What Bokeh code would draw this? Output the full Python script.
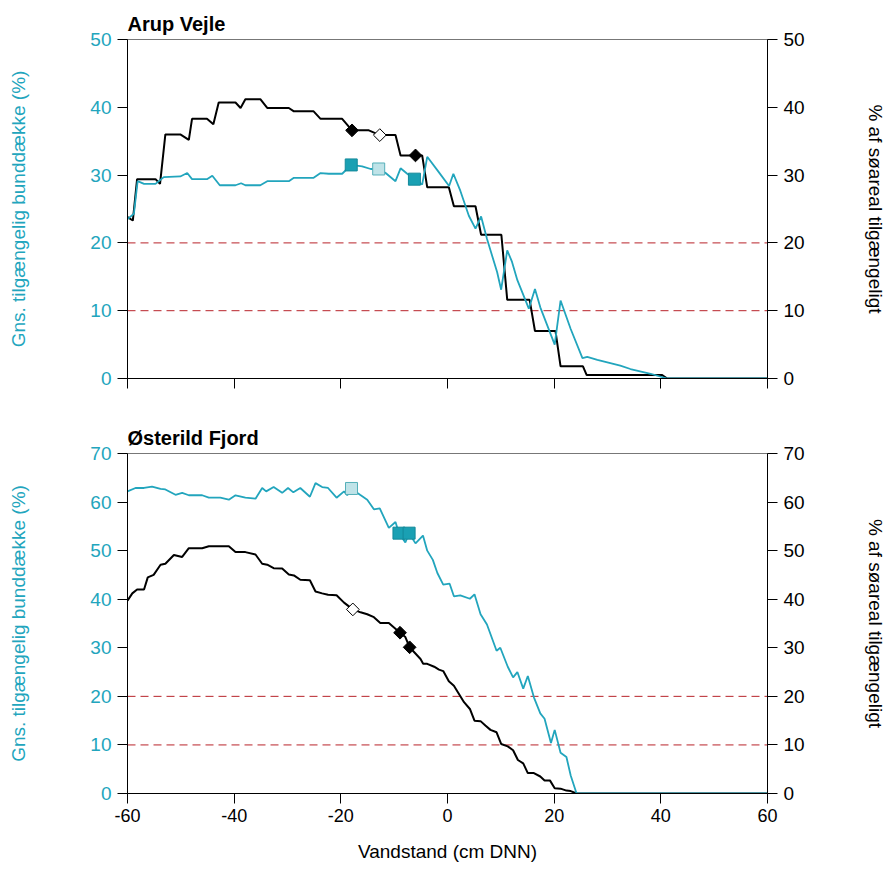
import numpy as np
from bokeh.plotting import figure
from bokeh.models import Range1d, LinearAxis, SingleIntervalTicker, FixedTicker, Span
from bokeh.layouts import column
from bokeh.embed import file_html
from bokeh.resources import INLINE

# ---------------- data ----------------
x_ticks = [-60, -40, -20, 0, 20, 40, 60]
x_tick_labels = ["-60", "-40", "-20", "0", "20", "40", "60"]
ref_levels = [10, 20]

# Arup Vejle
arup_black_x = [-60, -59, -58.2, -54.75, -53.9, -52.9, -50.1, -48.5, -47.9, -45.1,
                -43.9, -42.9, -39.75, -38.8, -37.9, -35.1, -33.8, -29.75, -28.8, -25.1,
                -23.8, -19.75, -17.9, -14.75, -12.7, -9.75, -8.8, -6.0, -4.75, -3.8,
                0.25, 1.2, 5.25, 6.3, 10.1, 11.2, 15.4, 16.4, 20.25, 21.2,
                25.4, 26.1, 40.25, 41.2, 60]
arup_black_y = [23.8, 23.3, 29.4, 29.4, 28.7, 36.0, 36.0, 35.2, 38.3, 38.3,
                37.5, 40.7, 40.7, 39.9, 41.2, 41.2, 39.9, 39.9, 39.4, 39.4,
                38.3, 38.3, 36.6, 36.6, 35.9, 35.9, 32.9, 32.9, 32.9, 28.2,
                28.2, 25.4, 25.4, 21.2, 21.2, 11.6, 11.6, 7.0, 7.0, 1.8,
                1.8, 0.5, 0.5, 0, 0]
arup_teal_x = [-60, -58.8, -58.1, -56.9, -54.75, -53.2, -50.1, -48.8, -47.9, -45.1,
               -44.1, -42.7, -39.75, -38.7, -37.9, -35.1, -33.8, -29.75, -28.8, -25.1,
               -23.8, -22.25, -19.75, -18.05, -16.0, -14.4, -12.9, -11.6, -9.75, -8.8,
               -7.55, -6.2, -4.75, -3.8, -1.6, 0.3, 1.1, 2.4, 4.0, 5.25,
               6.3, 7.4, 9.3, 10.06, 11.2, 12.1, 13.1, 15.25, 16.4, 17.4,
               20.1, 21.2, 23.1, 25.3, 26.2, 28.1, 32.4, 34.3, 38.1, 41.2, 60]
arup_teal_y = [23.5, 24.3, 29.1, 28.7, 28.7, 29.7, 29.8, 30.3, 29.4, 29.4,
               29.9, 28.5, 28.5, 28.8, 28.5, 28.5, 29.1, 29.1, 29.6, 29.6,
               30.3, 30.2, 30.2, 31.5, 31.3, 30.9, 30.9, 30.3, 29.1, 31.0,
               30.2, 29.4, 28.6, 32.7, 30.4, 28.4, 30.2, 27.7, 24.0, 22.1,
               23.9, 20.6, 15.7, 13.1, 18.9, 17.2, 14.5, 10.3, 13.2, 10.5,
               5.0, 11.5, 7.3, 3.0, 3.2, 2.75, 1.9, 1.4, 0.7, 0, 0]
arup_dia_fill_x = [-17.9, -6.0]
arup_dia_fill_y = [36.6, 32.9]
arup_dia_open_x = [-12.7]
arup_dia_open_y = [35.9]
arup_sq_fill_x = [-18.05, -6.2]
arup_sq_fill_y = [31.5, 29.4]
arup_sq_light_x = [-12.9]
arup_sq_light_y = [30.9]

# Østerild Fjord
ost_teal_x = [-60, -58.5, -56.9, -55.4, -53.8, -52.9, -51.0, -49.75, -48.5, -46.0,
              -44.75, -42.6, -41.0, -39.75, -37.9, -36.0, -34.75, -34.0, -32.6, -31.0,
              -29.9, -28.9, -27.6, -25.8, -24.75, -23.5, -22.4, -20.8, -19.4, -18.8,
              -18.0, -16.4, -15.05, -13.8, -12.7, -11.0, -9.75, -9.1, -7.9, -7.2,
              -6.0, -4.6, -3.8, -2.75, -1.9, -0.8, 0.4, 1.2, 2.4, 4.2,
              5.06, 6.2, 7.4, 9.2, 9.9, 11.3, 12.3, 13.1, 14.2, 15.06,
              16.2, 17.4, 18.2, 19.4, 20.1, 21.2, 22.3, 23.1, 24.2, 60]
ost_teal_y = [62.2, 62.9, 62.9, 63.2, 62.7, 62.6, 61.5, 61.9, 61.4, 61.4,
              60.9, 60.9, 60.5, 61.4, 60.9, 60.7, 62.9, 62.2, 63.1, 61.9,
              62.9, 62.0, 62.9, 61.1, 63.9, 63.1, 62.9, 60.9, 62.2, 61.4,
              62.7, 61.5, 60.5, 58.5, 58.7, 54.7, 55.9, 53.6, 51.7, 53.6,
              51.5, 53.1, 50.0, 48.1, 45.4, 43.0, 43.2, 40.6, 40.8, 40.1,
              41.0, 36.9, 34.8, 29.4, 30.0, 26.1, 23.9, 25.0, 21.6, 24.2,
              19.8, 16.5, 15.4, 10.4, 13.1, 8.4, 7.5, 3.7, 0, 0]
ost_black_x = [-60, -59.1, -58.2, -56.9, -56.2, -55.1, -53.8, -52.9, -51.3, -49.75,
               -48.5, -46.0, -44.75, -41.0, -39.75, -37.9, -36.0, -34.75, -33.8, -32.6,
               -31.0, -29.75, -28.8, -27.6, -25.8, -24.75, -23.5, -22.4, -20.8, -19.4,
               -17.75, -16.3, -15.05, -13.8, -12.6, -11.0, -8.9, -7.9, -7.1, -5.06,
               -4.56, -3.8, -2.5, -1.6, -0.8, 0.25, 1.2, 3.1, 4.2, 5.06,
               6.2, 7.1, 8.06, 9.2, 10.06, 11.3, 12.3, 13.2, 14.2, 15.06,
               16.2, 17.4, 18.2, 19.2, 20.1, 21.2, 22.3, 23.1, 24.2, 60]
ost_black_y = [39.7, 41.2, 42.0, 42.0, 44.5, 45.0, 47.1, 47.3, 49.1, 48.7,
               50.5, 50.5, 50.9, 50.9, 49.7, 49.7, 49.2, 47.3, 47.1, 46.4,
               46.3, 45.1, 44.9, 44.0, 43.9, 41.6, 41.2, 40.9, 40.8, 39.3,
               37.9, 37.3, 36.9, 36.3, 35.1, 35.1, 33.1, 32.2, 30.1, 27.7,
               26.7, 26.7, 26.1, 25.5, 25.2, 23.1, 22.2, 18.8, 17.4, 15.0,
               14.9, 14.0, 13.1, 12.6, 10.2, 9.7, 8.9, 6.9, 6.2, 4.2,
               4.2, 3.5, 2.7, 2.7, 1.1, 1.0, 0.6, 0.5, 0, 0]
ost_dia_fill_x = [-8.9, -7.1]
ost_dia_fill_y = [33.1, 30.1]
ost_dia_open_x = [-17.75]
ost_dia_open_y = [37.9]
ost_sq_fill_x = [-9.1, -7.2]
ost_sq_fill_y = [53.6, 53.6]
ost_sq_light_x = [-18.0]
ost_sq_light_y = [62.8]

# ---------------- style ----------------
FONT = "Liberation Sans"
TEAL = "#22a5bd"
SQ_FILL = "#1aa0b3"
SQ_LINE = "#13899a"
SQ_LIGHT = "#bfe3e8"
SQ_LIGHT_LINE = "#55afb9"
RED = "#b8232a"
LEFT_LABEL = "Gns. tilgængelig bunddække (%)"
RIGHT_LABEL = "% af søareal tilgængeligt"


def style_axis(ax, color, label, standoff):
    ax.ticker = SingleIntervalTicker(interval=10)
    ax.minor_tick_line_color = None
    ax.major_tick_in = 0
    ax.major_tick_out = 10
    ax.major_tick_line_color = "black"
    ax.axis_line_color = "black"
    ax.major_label_text_font = FONT
    ax.major_label_text_font_size = "19px"
    ax.major_label_text_color = color
    ax.major_label_standoff = 6
    ax.axis_label = label
    ax.axis_label_text_font = FONT
    ax.axis_label_text_font_size = "19px"
    ax.axis_label_text_font_style = "normal"
    ax.axis_label_text_color = color
    ax.axis_label_standoff = standoff


def make_panel(title, ymax, frame_h, top, bottom, show_x,
               bx, by, tx, ty, dfx, dfy, dox, doy, sfx, sfy, slx, sly):
    p = figure(frame_width=640, frame_height=frame_h,
               x_range=Range1d(-60, 60), y_range=Range1d(0, ymax),
               output_backend="svg", toolbar_location=None,
               min_border_left=127, min_border_right=118,
               min_border_top=top, min_border_bottom=bottom,
               background_fill_color="white", border_fill_color="white")
    p.title.text = title
    p.title.text_font = FONT
    p.title.text_font_size = "20px"
    p.title.text_font_style = "bold"
    p.title.text_color = "black"
    p.title.align = "left"
    p.title.offset = 0
    p.xgrid.visible = False
    p.ygrid.visible = False
    p.outline_line_color = "#777777"
    p.outline_line_width = 1

    style_axis(p.yaxis[0], TEAL, LEFT_LABEL, 58)
    rax = LinearAxis()
    style_axis(rax, "black", RIGHT_LABEL, 57)
    p.add_layout(rax, "right")

    xa = p.xaxis[0]
    xa.ticker = FixedTicker(ticks=x_ticks)
    xa.minor_tick_line_color = None
    xa.major_tick_in = 0
    xa.major_tick_out = 10
    xa.axis_line_color = "black"
    xa.major_tick_line_color = "black"
    xa.major_label_text_font = FONT
    xa.major_label_text_font_size = "18px"
    xa.major_label_text_color = "black"
    xa.major_label_standoff = 5
    if show_x:
        xa.major_label_overrides = dict(zip(x_ticks, x_tick_labels))
        xa.axis_label = "Vandstand (cm DNN)"
        xa.axis_label_text_font = FONT
        xa.axis_label_text_font_size = "19px"
        xa.axis_label_text_font_style = "normal"
        xa.axis_label_text_color = "black"
        xa.axis_label_standoff = 16
    else:
        xa.major_label_overrides = {t: "" for t in x_ticks}

    for lv in ref_levels:
        p.add_layout(Span(location=lv, dimension="width", line_color=RED,
                          line_width=1, line_dash="8 5", level="underlay"))

    p.line(bx, by, line_color="black", line_width=2)
    p.line(tx, ty, line_color=TEAL, line_width=1.8)

    p.scatter(sfx, sfy, marker="square", size=12, fill_color=SQ_FILL,
              line_color=SQ_LINE, line_width=1)
    p.scatter(slx, sly, marker="square", size=12, fill_color=SQ_LIGHT,
              line_color=SQ_LIGHT_LINE, line_width=1)
    p.scatter(dfx, dfy, marker="square", angle=np.pi / 4, size=9,
              fill_color="black", line_color="black", line_width=1)
    p.scatter(dox, doy, marker="square", angle=np.pi / 4, size=9,
              fill_color="white", line_color="black", line_width=1)
    return p


p1 = make_panel("Arup Vejle", 50, 339, 39, 36, False,
                arup_black_x, arup_black_y, arup_teal_x, arup_teal_y,
                arup_dia_fill_x, arup_dia_fill_y, arup_dia_open_x, arup_dia_open_y,
                arup_sq_fill_x, arup_sq_fill_y, arup_sq_light_x, arup_sq_light_y)
p2 = make_panel("Østerild Fjord", 70, 340, 39, 78, True,
                ost_black_x, ost_black_y, ost_teal_x, ost_teal_y,
                ost_dia_fill_x, ost_dia_fill_y, ost_dia_open_x, ost_dia_open_y,
                ost_sq_fill_x, ost_sq_fill_y, ost_sq_light_x, ost_sq_light_y)

layout = column(p1, p2, spacing=0)
open("out.html", "w").write(file_html(layout, INLINE))
